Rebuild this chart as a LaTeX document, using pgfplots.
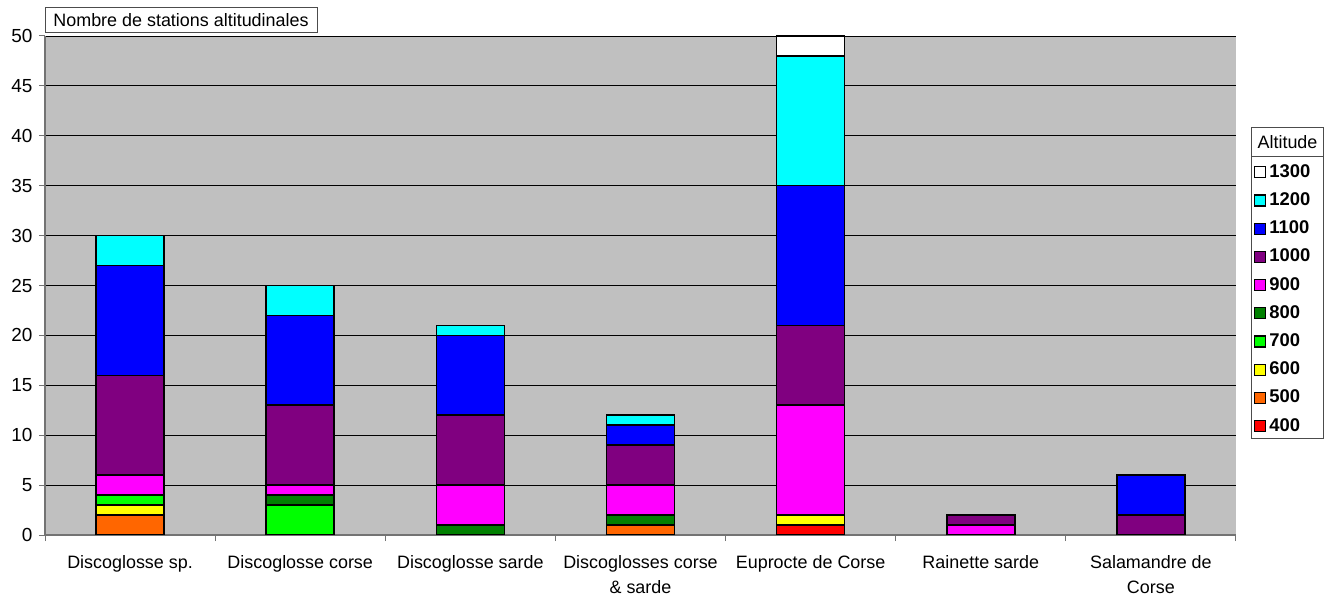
\documentclass[border=0pt]{standalone}
\usepackage{fontspec}
\setmainfont{Liberation Sans}
\usepackage{pgfplots}
\usepackage{pgfplotstable}
\pgfplotsset{compat=1.18}
\definecolor{c400}{HTML}{FF0000}
\definecolor{c500}{HTML}{FF6600}
\definecolor{c600}{HTML}{FFFF00}
\definecolor{c700}{HTML}{00FF00}
\definecolor{c800}{HTML}{008000}
\definecolor{c900}{HTML}{FF00FF}
\definecolor{c1000}{HTML}{800080}
\definecolor{c1100}{HTML}{0000FF}
\definecolor{c1200}{HTML}{00FFFF}
\definecolor{c1300}{HTML}{FFFFFF}
\definecolor{bg}{HTML}{C0C0C0}
\pgfplotstableread{
x a400 a500 a600 a700 a800 a900 a1000 a1100 a1200 a1300
0 0 2 1 1 0 2 10 11 3 0
1 0 0 0 3 1 1 8 9 3 0
2 0 0 0 0 1 4 7 8 1 0
3 0 1 0 0 1 3 4 2 1 0
4 1 0 1 0 0 11 8 14 13 2
5 0 0 0 0 0 1 1 0 0 0
6 0 0 0 0 0 0 2 4 0 0
}\data
\pgfplotsset{seg/.style={fill=#1, draw=black, line width=1.6bp,
  legend image code/.code={\draw[fill=#1, draw=black, line width=1.2bp] (0bp,-5.5bp) rectangle (11bp,5.5bp);}}}
\begin{document}
\begin{tikzpicture}
\useasboundingbox (0,0) rectangle (1332bp,596bp);
\fill[white] (1251bp,157bp) rectangle (1323bp,439bp);
\begin{axis}[
  at={(45bp,61bp)}, anchor=south west, scale only axis,
  width=1191bp, height=499bp,
  xmin=-0.5, xmax=6.5, ymin=0, ymax=50,
  enlarge x limits=false,
  ybar stacked, bar width=0.4,
  axis background/.style={fill=bg},
  axis x line*=bottom, axis y line*=left,
  axis line style={-, draw=black!55, line width=1.2bp},
  ytick={0,5,...,50},
  xtick={-0.5,0.5,...,6.5},
  x tick label as interval,
  xticklabels={Discoglosse sp., Discoglosse corse, Discoglosse sarde, {Discoglosses corse\\\& sarde}, Euprocte de Corse, Rainette sarde, {Salamandre de\\Corse}},
  xticklabel style={align=center, font=\fontsize{18}{25}\selectfont, yshift=-11bp},
  yticklabel style={font=\fontsize{19}{20}\selectfont, xshift=-3bp},
  /pgf/number format/assume math mode=true,
  tick align=outside, major tick length=6bp,
  tick style={draw=black!55, line width=1bp},
  ymajorgrids, grid style={draw=black, line width=0.9bp},
  reverse legend,
  legend style={at={(1.0126,0.7575)}, anchor=north west, draw=none, fill=none,
    font=\bfseries\fontsize{18.5}{20}\selectfont, cells={anchor=west},
    nodes={inner ysep=2bp, inner xsep=3.5bp, text height=13bp, text depth=3bp}, row sep=8.2bp,
    inner xsep=2.5bp, inner ysep=5bp},
]
\addplot[seg=c400] table[x=x,y=a400]{\data};
\addplot[seg=c500] table[x=x,y=a500]{\data};
\addplot[seg=c600] table[x=x,y=a600]{\data};
\addplot[seg=c700] table[x=x,y=a700]{\data};
\addplot[seg=c800] table[x=x,y=a800]{\data};
\addplot[seg=c900] table[x=x,y=a900]{\data};
\addplot[seg=c1000] table[x=x,y=a1000]{\data};
\addplot[seg=c1100] table[x=x,y=a1100]{\data};
\addplot[seg=c1200] table[x=x,y=a1200]{\data};
\addplot[seg=c1300] table[x=x,y=a1300]{\data};
\legend{400,500,600,700,800,900,1000,1100,1200,1300}
\end{axis}
\draw[draw=black!70, line width=1bp] (1251bp,157bp) rectangle (1323bp,439bp);
\node[draw=black!70, line width=1bp, fill=white, minimum width=72bp, minimum height=29bp, inner sep=0pt,
  anchor=south west, font=\fontsize{18}{20}\selectfont] at (1251bp,439bp) {Altitude};
\node[draw=black!70, line width=1bp, fill=white, minimum width=272bp, minimum height=25bp, inner sep=0pt,
  font=\fontsize{18}{20}\selectfont] at (181bp,575.5bp) {Nombre de stations altitudinales};
\end{tikzpicture}
\end{document}
